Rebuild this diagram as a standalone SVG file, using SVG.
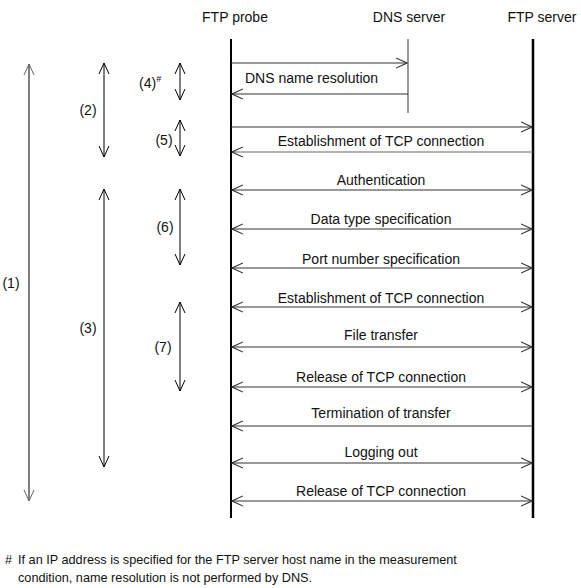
<svg xmlns="http://www.w3.org/2000/svg" width="581" height="588" viewBox="0 0 581 588">
<defs>
<style>
text{font-family:"Liberation Sans",Arial,sans-serif;font-size:14px;fill:#111}
.c{text-anchor:middle}
.fn{font-size:12.7px}
.life{stroke:#000;stroke-width:2;fill:none}
.dns{stroke:#777;stroke-width:1.5;fill:none}
.msg{stroke:#333;stroke-width:1.2;fill:none}
.span{stroke:#000;stroke-width:1;fill:none}
.span1{stroke:#808080;stroke-width:2;fill:none}
</style>
<marker id="ah" viewBox="0 0 12 12" refX="11" refY="6" markerWidth="12" markerHeight="12" markerUnits="userSpaceOnUse" orient="auto-start-reverse">
<path d="M0,1 L11,6 L0,11" fill="none" stroke="#333" stroke-width="1.1"/>
</marker>
<marker id="av" viewBox="0 0 12 12" refX="11" refY="6" markerWidth="12" markerHeight="12" markerUnits="userSpaceOnUse" orient="auto-start-reverse">
<path d="M0,1 L11,6 L0,11" fill="none" stroke="#000" stroke-width="1"/>
</marker>
<marker id="ag" viewBox="0 0 12 12" refX="11" refY="6" markerWidth="12" markerHeight="12" markerUnits="userSpaceOnUse" orient="auto-start-reverse">
<path d="M0,1 L11,6 L0,11" fill="none" stroke="#666" stroke-width="1"/>
</marker>
</defs>

<g id="ftp-probe">
<text class="c" x="235" y="22">FTP probe</text>
<line class="life" x1="231" y1="39" x2="231" y2="518"/>
</g>
<g id="dns-server">
<text class="c" x="409" y="22">DNS server</text>
<line class="dns" x1="408" y1="39" x2="408" y2="113"/>
</g>
<g id="ftp-server">
<text class="c" x="542" y="22">FTP server</text>
<line class="life" x1="533" y1="39" x2="533" y2="518" style="stroke-width:2.5"/>
</g>

<g id="connectors">
<line class="msg" x1="231" y1="63" x2="407" y2="63" marker-end="url(#ah)"/>
<line class="msg" x1="408" y1="94" x2="232" y2="94" marker-end="url(#ah)"/>
<line class="msg" x1="231" y1="127" x2="532" y2="127" marker-end="url(#ah)"/>
<line class="msg" x1="533" y1="152" x2="232" y2="152" marker-end="url(#ah)" style="stroke:#666"/>
<line class="msg" x1="232" y1="190" x2="532" y2="190" marker-start="url(#ah)" marker-end="url(#ah)"/>
<line class="msg" x1="232" y1="229" x2="532" y2="229" marker-start="url(#ah)" marker-end="url(#ah)"/>
<line class="msg" x1="232" y1="268" x2="532" y2="268" marker-start="url(#ah)" marker-end="url(#ah)"/>
<line class="msg" x1="232" y1="307" x2="532" y2="307" marker-start="url(#ah)" marker-end="url(#ah)"/>
<line class="msg" x1="232" y1="347" x2="532" y2="347" marker-start="url(#ah)" marker-end="url(#ah)"/>
<line class="msg" x1="232" y1="387" x2="532" y2="387" marker-start="url(#ah)" marker-end="url(#ah)"/>
<line class="msg" x1="533" y1="426" x2="232" y2="426" marker-end="url(#ah)"/>
<line class="msg" x1="232" y1="463" x2="532" y2="463" marker-start="url(#ah)" marker-end="url(#ah)"/>
<line class="msg" x1="232" y1="501" x2="532" y2="501" marker-start="url(#ah)" marker-end="url(#ah)"/>

<line class="span1" x1="29" y1="64" x2="29" y2="501" marker-start="url(#ag)" marker-end="url(#ag)"/>
<line class="span" x1="104" y1="63" x2="104" y2="157" marker-start="url(#av)" marker-end="url(#av)"/>
<line class="span" x1="104" y1="189" x2="104" y2="467" marker-start="url(#av)" marker-end="url(#av)"/>
<line class="span" x1="180" y1="63" x2="180" y2="100" marker-start="url(#av)" marker-end="url(#av)"/>
<line class="span" x1="180" y1="120" x2="180" y2="156" marker-start="url(#av)" marker-end="url(#av)"/>
<line class="span" x1="180" y1="189" x2="180" y2="265" marker-start="url(#av)" marker-end="url(#av)"/>
<line class="span" x1="180" y1="302" x2="180" y2="391" marker-start="url(#av)" marker-end="url(#av)"/>
</g>

<g id="labels">
<text x="245" y="83">DNS name resolution</text>
<text class="c" x="381" y="146">Establishment of TCP connection</text>
<text class="c" x="381" y="185">Authentication</text>
<text class="c" x="381" y="224">Data type specification</text>
<text class="c" x="381" y="264">Port number specification</text>
<text class="c" x="381" y="303">Establishment of TCP connection</text>
<text class="c" x="381" y="340">File transfer</text>
<text class="c" x="381" y="382">Release of TCP connection</text>
<text class="c" x="381" y="418">Termination of transfer</text>
<text class="c" x="381" y="457">Logging out</text>
<text class="c" x="381" y="496">Release of TCP connection</text>

<text class="c" x="11" y="288">(1)</text>
<text class="c" x="88" y="115">(2)</text>
<text class="c" x="88" y="333">(3)</text>
<text x="139" y="88">(4)<tspan dy="-6" style="font-size:9px">#</tspan></text>
<text class="c" x="164" y="145">(5)</text>
<text class="c" x="165" y="232">(6)</text>
<text class="c" x="163" y="352">(7)</text>
</g>

<g id="footnote">
<text class="fn" x="5" y="564">#</text>
<text class="fn" x="18" y="564">If an IP address is specified for the FTP server host name in the measurement</text>
<text class="fn" x="18" y="582">condition, name resolution is not performed by DNS.</text>
</g>
</svg>
